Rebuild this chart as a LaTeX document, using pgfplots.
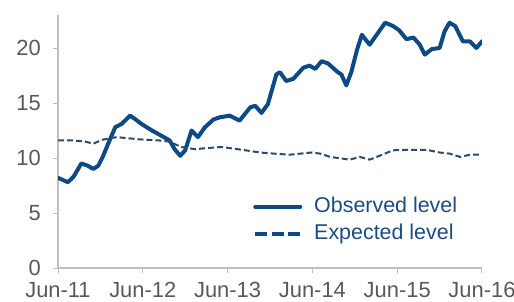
\documentclass[border=0pt]{standalone}
\usepackage{fontspec}
\setmainfont{Liberation Sans}
\usepackage{pgfplots}
\pgfplotsset{compat=1.18}
\definecolor{obs}{HTML}{0D4A85}
\definecolor{expc}{HTML}{2E4A6A}
\definecolor{axgray}{HTML}{BFBFBF}
\definecolor{txtgray}{HTML}{595959}
\definecolor{legblue}{HTML}{1A4C80}
\begin{document}
\begin{tikzpicture}
\path[use as bounding box] (-58bp,-34bp) rectangle (456bp,268bp);
\begin{axis}[
  at={(0,0)}, anchor=south west,
  scale only axis, width=424bp, height=253bp,
  xmin=0, xmax=60, ymin=0, ymax=23,
  axis lines=left,
  axis line style={axgray, line width=1.5bp, -},
  xtick={0,12,24,36,48,60},
  xticklabels={Jun-11,Jun-12,Jun-13,Jun-14,Jun-15,Jun-16},
  ytick={0,5,10,15,20},
  tick align=outside,
  major tick length=5bp,
  tick style={axgray, line width=1bp},
  /pgf/number format/assume math mode=true,
  tick label style={font=\fontsize{22}{24}\selectfont, text=txtgray, inner sep=0pt},
  xticklabel style={anchor=north, yshift=-9bp},
  yticklabel style={anchor=east, xshift=-12bp},
  legend style={draw=none, fill=none, at={(axis description cs:0.46,0.28)}, anchor=north west,
    font=\fontsize{21.5}{24}\selectfont, text=legblue, row sep=8bp, inner sep=0pt,
    nodes={inner sep=0pt, text height=15bp, text depth=4bp},
    /tikz/every odd column/.style={column sep=12bp}},
  legend cell align=left,
  legend image code/.code={\draw[#1] (0bp,0bp) -- (45bp,0bp);},
]
\addplot[obs, line width=4bp, line join=round, line cap=round] coordinates {
(0,8.2) (1.4,7.8) (2.2,8.3) (3.3,9.5) (4.2,9.3) (5.0,9.0) (5.7,9.3) (6.4,10.2)
(7.1,11.3) (8.1,12.8) (9.0,13.1) (10.2,13.85) (11.0,13.5) (11.8,13.1) (13.3,12.5)
(14.7,12.0) (15.8,11.6) (16.5,10.8) (17.3,10.2) (18.0,10.7) (18.9,12.5) (19.8,11.9)
(20.8,12.8) (22.0,13.5) (22.9,13.7) (24.3,13.85) (25.7,13.4) (27.2,14.6) (27.9,14.75)
(28.8,14.1) (29.7,14.9) (30.9,17.6) (31.4,17.8) (32.3,17.0) (33.3,17.2) (34.7,18.2)
(35.6,18.4) (36.4,18.1) (37.3,18.8) (38.2,18.6) (39.6,17.8) (40.1,17.6) (40.8,16.6)
(41.5,17.8) (42.3,19.8) (43.0,21.2) (44.1,20.3) (45.2,21.3) (46.3,22.3) (47.4,22.0)
(48.3,21.6) (49.3,20.8) (50.3,20.95) (51.2,20.3) (51.9,19.4) (52.9,19.9) (54.0,20.0)
(54.7,21.5) (55.4,22.3) (56.2,22.0) (57.3,20.6) (58.3,20.6) (59.2,20.0) (60,20.6)
};
\addlegendentry{Observed level}
\addplot[expc, line width=2bp, dash pattern=on 6bp off 3bp, forget plot] coordinates {
(0,11.6) (2,11.6) (3.8,11.5) (5.0,11.3) (6.2,11.65) (8.3,11.9) (11.4,11.7) (14.2,11.6)
(15.6,11.5) (17.5,11.0) (19.4,10.8) (21,10.9) (23.2,11.0) (26.0,10.75) (28.6,10.5)
(30.5,10.4) (32.8,10.3) (35.9,10.5) (37.1,10.4) (38.5,10.1) (41.3,9.85) (42.7,10.1)
(44.1,9.85) (45.5,10.2) (47.4,10.7) (49.8,10.75) (52.1,10.75) (54.0,10.5) (55.4,10.4)
(56.9,10.1) (58.3,10.3) (60,10.3)
};
\addlegendimage{legend image code/.code={\draw[obs, line width=3.5bp, dash pattern=on 12bp off 4.5bp] (0bp,0bp) -- (45bp,0bp);}}
\addlegendentry{Expected level}
\end{axis}
\end{tikzpicture}
\end{document}
